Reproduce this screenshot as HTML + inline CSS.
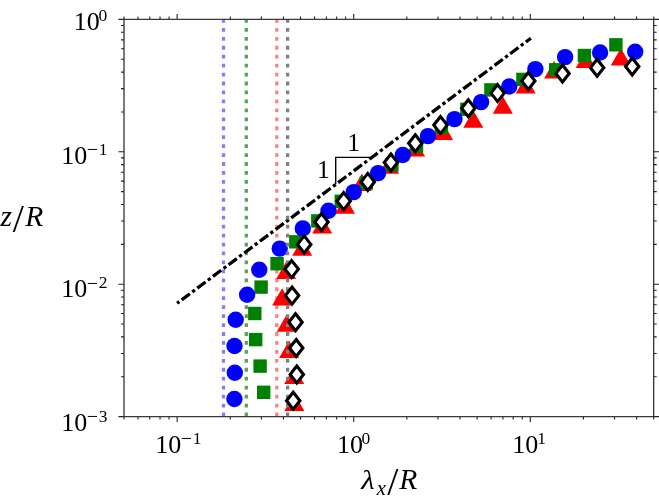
<!DOCTYPE html>
<html><head><meta charset="utf-8"><title>plot</title>
<style>html,body{margin:0;padding:0;background:#fff}svg{display:block}text{font-family:"Liberation Serif","DejaVu Serif",serif;fill:#000}</style></head><body>
<svg width="659" height="502" viewBox="0 0 659 502">
<rect width="659" height="502" fill="#fff"/>
<path d="M335.7 184.1V157.4H371.1" fill="none" stroke="#000" stroke-width="1.4"/>
<line x1="276.8" y1="19.0" x2="276.8" y2="416.6" stroke="#ff8080" stroke-width="3.3" stroke-dasharray="3.8 5.145"/>
<path d="M284.4 411.0L294.4 393.6L304.4 411.0Z" fill="#ff0000"/>
<path d="M284.2 384.1L294.2 366.7L304.2 384.1Z" fill="#ff0000"/>
<path d="M279.1 358.0L289.1 340.6L299.1 358.0Z" fill="#ff0000"/>
<path d="M276.7 331.8L286.7 314.4L296.7 331.8Z" fill="#ff0000"/>
<path d="M272.1 305.6L282.1 288.2L292.1 305.6Z" fill="#ff0000"/>
<path d="M276.1 279.1L286.1 261.7L296.1 279.1Z" fill="#ff0000"/>
<path d="M292.2 255.7L302.2 238.3L312.2 255.7Z" fill="#ff0000"/>
<path d="M312.2 233.6L322.2 216.2L332.2 233.6Z" fill="#ff0000"/>
<path d="M335.0 213.7L345.0 196.3L355.0 213.7Z" fill="#ff0000"/>
<path d="M351.9 191.0L361.9 173.6L371.9 191.0Z" fill="#ff0000"/>
<path d="M379.1 173.8L389.1 156.3L399.1 173.8Z" fill="#ff0000"/>
<path d="M405.1 156.6L415.1 139.2L425.1 156.6Z" fill="#ff0000"/>
<path d="M433.1 139.9L443.1 122.5L453.1 139.9Z" fill="#ff0000"/>
<path d="M463.3 127.7L473.3 110.3L483.3 127.7Z" fill="#ff0000"/>
<path d="M492.8 113.7L502.8 96.3L512.8 113.7Z" fill="#ff0000"/>
<path d="M515.7 93.4L525.7 76.0L535.7 93.4Z" fill="#ff0000"/>
<path d="M544.1 78.5L554.1 61.1L564.1 78.5Z" fill="#ff0000"/>
<path d="M575.7 68.1L585.7 50.7L595.7 68.1Z" fill="#ff0000"/>
<path d="M610.8 65.5L620.8 48.1L630.8 65.5Z" fill="#ff0000"/>
<line x1="246.3" y1="19.0" x2="246.3" y2="416.6" stroke="#58a458" stroke-width="3.3" stroke-dasharray="3.8 5.145"/>
<line x1="223.5" y1="19.0" x2="223.5" y2="416.6" stroke="#8080ff" stroke-width="3.3" stroke-dasharray="3.8 5.145"/>
<line x1="177.1" y1="303.3" x2="530.9" y2="38.2" stroke="#000" stroke-width="3.3" stroke-dasharray="3.3 3 10.25 3" stroke-dashoffset="0.6"/>
<rect x="257.0" y="385.6" width="13.4" height="13.4" fill="#008000"/>
<rect x="253.4" y="359.4" width="13.4" height="13.4" fill="#008000"/>
<rect x="249.0" y="332.9" width="13.4" height="13.4" fill="#008000"/>
<rect x="248.1" y="306.8" width="13.4" height="13.4" fill="#008000"/>
<rect x="254.4" y="280.4" width="13.4" height="13.4" fill="#008000"/>
<rect x="270.4" y="257.0" width="13.4" height="13.4" fill="#008000"/>
<rect x="289.1" y="235.1" width="13.4" height="13.4" fill="#008000"/>
<rect x="311.1" y="214.2" width="13.4" height="13.4" fill="#008000"/>
<rect x="334.6" y="194.6" width="13.4" height="13.4" fill="#008000"/>
<rect x="359.6" y="176.4" width="13.4" height="13.4" fill="#008000"/>
<rect x="385.2" y="157.9" width="13.4" height="13.4" fill="#008000"/>
<rect x="409.8" y="139.5" width="13.4" height="13.4" fill="#008000"/>
<rect x="434.7" y="120.6" width="13.4" height="13.4" fill="#008000"/>
<rect x="460.2" y="102.6" width="13.4" height="13.4" fill="#008000"/>
<rect x="484.2" y="83.2" width="13.4" height="13.4" fill="#008000"/>
<rect x="516.2" y="72.7" width="13.4" height="13.4" fill="#008000"/>
<rect x="549.0" y="63.1" width="13.4" height="13.4" fill="#008000"/>
<rect x="577.7" y="48.8" width="13.4" height="13.4" fill="#008000"/>
<rect x="609.2" y="38.1" width="13.4" height="13.4" fill="#008000"/>
<circle cx="234.4" cy="399.0" r="8.2" fill="#0000ff"/>
<circle cx="234.8" cy="372.8" r="8.2" fill="#0000ff"/>
<circle cx="234.5" cy="346.0" r="8.2" fill="#0000ff"/>
<circle cx="235.7" cy="319.8" r="8.2" fill="#0000ff"/>
<circle cx="247.1" cy="294.7" r="8.2" fill="#0000ff"/>
<circle cx="259.3" cy="269.7" r="8.2" fill="#0000ff"/>
<circle cx="279.7" cy="248.6" r="8.2" fill="#0000ff"/>
<circle cx="302.8" cy="228.4" r="8.2" fill="#0000ff"/>
<circle cx="328.5" cy="210.7" r="8.2" fill="#0000ff"/>
<circle cx="353.7" cy="192.1" r="8.2" fill="#0000ff"/>
<circle cx="378.1" cy="173.1" r="8.2" fill="#0000ff"/>
<circle cx="402.8" cy="155.0" r="8.2" fill="#0000ff"/>
<circle cx="428.0" cy="136.1" r="8.2" fill="#0000ff"/>
<circle cx="454.5" cy="119.1" r="8.2" fill="#0000ff"/>
<circle cx="481.1" cy="102.1" r="8.2" fill="#0000ff"/>
<circle cx="509.2" cy="86.5" r="8.2" fill="#0000ff"/>
<circle cx="535.4" cy="69.1" r="8.2" fill="#0000ff"/>
<circle cx="565.1" cy="57.1" r="8.2" fill="#0000ff"/>
<circle cx="600.1" cy="52.5" r="8.2" fill="#0000ff"/>
<circle cx="635.2" cy="51.7" r="8.2" fill="#0000ff"/>
<line x1="287.6" y1="19.0" x2="287.6" y2="416.6" stroke="#808080" stroke-width="3.3" stroke-dasharray="3.8 5.145"/>
<path d="M293.2 392.2L299.9 400.7L293.2 409.2L286.5 400.7Z" fill="#fff" stroke="#000" stroke-width="3.1" stroke-linejoin="miter"/>
<path d="M296.8 366.0L303.5 374.5L296.8 383.0L290.1 374.5Z" fill="#fff" stroke="#000" stroke-width="3.1" stroke-linejoin="miter"/>
<path d="M296.2 339.5L302.9 348.0L296.2 356.5L289.5 348.0Z" fill="#fff" stroke="#000" stroke-width="3.1" stroke-linejoin="miter"/>
<path d="M295.5 313.8L302.2 322.3L295.5 330.8L288.8 322.3Z" fill="#fff" stroke="#000" stroke-width="3.1" stroke-linejoin="miter"/>
<path d="M292.1 287.1L298.8 295.6L292.1 304.1L285.4 295.6Z" fill="#fff" stroke="#000" stroke-width="3.1" stroke-linejoin="miter"/>
<path d="M291.7 260.6L298.4 269.1L291.7 277.6L285.0 269.1Z" fill="#fff" stroke="#000" stroke-width="3.1" stroke-linejoin="miter"/>
<path d="M304.2 235.9L310.9 244.4L304.2 252.9L297.5 244.4Z" fill="#fff" stroke="#000" stroke-width="3.1" stroke-linejoin="miter"/>
<path d="M321.5 213.5L328.2 222.0L321.5 230.5L314.8 222.0Z" fill="#fff" stroke="#000" stroke-width="3.1" stroke-linejoin="miter"/>
<path d="M343.7 192.6L350.4 201.1L343.7 209.6L337.0 201.1Z" fill="#fff" stroke="#000" stroke-width="3.1" stroke-linejoin="miter"/>
<path d="M367.8 173.4L374.5 181.9L367.8 190.4L361.1 181.9Z" fill="#fff" stroke="#000" stroke-width="3.1" stroke-linejoin="miter"/>
<path d="M390.9 154.0L397.6 162.5L390.9 171.0L384.2 162.5Z" fill="#fff" stroke="#000" stroke-width="3.1" stroke-linejoin="miter"/>
<path d="M415.3 134.8L422.0 143.3L415.3 151.8L408.6 143.3Z" fill="#fff" stroke="#000" stroke-width="3.1" stroke-linejoin="miter"/>
<path d="M440.5 116.6L447.2 125.1L440.5 133.6L433.8 125.1Z" fill="#fff" stroke="#000" stroke-width="3.1" stroke-linejoin="miter"/>
<path d="M468.3 99.8L475.0 108.3L468.3 116.8L461.6 108.3Z" fill="#fff" stroke="#000" stroke-width="3.1" stroke-linejoin="miter"/>
<path d="M497.6 84.6L504.3 93.1L497.6 101.6L490.9 93.1Z" fill="#fff" stroke="#000" stroke-width="3.1" stroke-linejoin="miter"/>
<path d="M528.3 72.5L535.0 81.0L528.3 89.5L521.6 81.0Z" fill="#fff" stroke="#000" stroke-width="3.1" stroke-linejoin="miter"/>
<path d="M562.5 65.0L569.2 73.5L562.5 82.0L555.8 73.5Z" fill="#fff" stroke="#000" stroke-width="3.1" stroke-linejoin="miter"/>
<path d="M597.1 59.2L603.8 67.7L597.1 76.2L590.4 67.7Z" fill="#fff" stroke="#000" stroke-width="3.1" stroke-linejoin="miter"/>
<path d="M632.2 58.0L638.9 66.5L632.2 75.0L625.5 66.5Z" fill="#fff" stroke="#000" stroke-width="3.1" stroke-linejoin="miter"/>
<path d="M124.00 416.6v3.0M124.00 19.4v-3.0M137.98 416.6v3.0M137.98 19.4v-3.0M149.80 416.6v3.0M149.80 19.4v-3.0M160.04 416.6v3.0M160.04 19.4v-3.0M169.07 416.6v3.0M169.07 19.4v-3.0M177.15 416.6v5.4M177.15 19.4v-5.4M230.30 416.6v3.0M230.30 19.4v-3.0M261.40 416.6v3.0M261.40 19.4v-3.0M283.46 416.6v3.0M283.46 19.4v-3.0M300.57 416.6v3.0M300.57 19.4v-3.0M314.55 416.6v3.0M314.55 19.4v-3.0M326.37 416.6v3.0M326.37 19.4v-3.0M336.61 416.6v3.0M336.61 19.4v-3.0M345.64 416.6v3.0M345.64 19.4v-3.0M353.72 416.6v5.4M353.72 19.4v-5.4M406.87 416.6v3.0M406.87 19.4v-3.0M437.96 416.6v3.0M437.96 19.4v-3.0M460.02 416.6v3.0M460.02 19.4v-3.0M477.13 416.6v3.0M477.13 19.4v-3.0M491.11 416.6v3.0M491.11 19.4v-3.0M502.93 416.6v3.0M502.93 19.4v-3.0M513.17 416.6v3.0M513.17 19.4v-3.0M522.21 416.6v3.0M522.21 19.4v-3.0M530.29 416.6v5.4M530.29 19.4v-5.4M583.44 416.6v3.0M583.44 19.4v-3.0M614.53 416.6v3.0M614.53 19.4v-3.0M636.59 416.6v3.0M636.59 19.4v-3.0M653.70 416.6v3.0M653.70 19.4v-3.0M124.0 416.60h-5.6M653.7 416.60h5.6M124.0 376.74h-3.0M653.7 376.74h3.0M124.0 353.43h-3.0M653.7 353.43h3.0M124.0 336.89h-3.0M653.7 336.89h3.0M124.0 324.06h-3.0M653.7 324.06h3.0M124.0 313.57h-3.0M653.7 313.57h3.0M124.0 304.71h-3.0M653.7 304.71h3.0M124.0 297.03h-3.0M653.7 297.03h3.0M124.0 290.26h-3.0M653.7 290.26h3.0M124.0 284.20h-5.6M653.7 284.20h5.6M124.0 244.34h-3.0M653.7 244.34h3.0M124.0 221.03h-3.0M653.7 221.03h3.0M124.0 204.49h-3.0M653.7 204.49h3.0M124.0 191.66h-3.0M653.7 191.66h3.0M124.0 181.17h-3.0M653.7 181.17h3.0M124.0 172.31h-3.0M653.7 172.31h3.0M124.0 164.63h-3.0M653.7 164.63h3.0M124.0 157.86h-3.0M653.7 157.86h3.0M124.0 151.80h-5.6M653.7 151.80h5.6M124.0 111.94h-3.0M653.7 111.94h3.0M124.0 88.63h-3.0M653.7 88.63h3.0M124.0 72.09h-3.0M653.7 72.09h3.0M124.0 59.26h-3.0M653.7 59.26h3.0M124.0 48.77h-3.0M653.7 48.77h3.0M124.0 39.91h-3.0M653.7 39.91h3.0M124.0 32.23h-3.0M653.7 32.23h3.0M124.0 25.46h-3.0M653.7 25.46h3.0M124.0 19.40h-5.6M653.7 19.40h5.6" stroke="#222" stroke-width="1.1" fill="none"/>
<path d="M123.4 19.4H654.3000000000001M123.4 416.6H654.3000000000001" fill="none" stroke="#3a3a3a" stroke-width="1.2"/>
<path d="M124.0 19.4V416.6M653.7 19.4V416.6" fill="none" stroke="#222" stroke-width="1.2"/>
<text x="73.8" y="30.2" font-size="26">10<tspan dy="-9.2" dx="-1.3" font-size="17.5">0</tspan></text>
<text x="61.2" y="164.0" font-size="26">10<tspan dy="-7.9" dx="-0.4" font-size="20">−</tspan><tspan dy="-1.6" dx="0.6" font-size="17.5">1</tspan></text>
<text x="61.2" y="297.4" font-size="26">10<tspan dy="-7.9" dx="-0.4" font-size="20">−</tspan><tspan dy="-1.6" dx="0.6" font-size="17.5">2</tspan></text>
<text x="61.2" y="431.2" font-size="26">10<tspan dy="-7.9" dx="-0.4" font-size="20">−</tspan><tspan dy="-1.6" dx="0.6" font-size="17.5">3</tspan></text>
<text x="155.2" y="453.0" font-size="26">10<tspan dy="-7.9" dx="-0.4" font-size="20">−</tspan><tspan dy="-1.6" dx="0.6" font-size="17.5">1</tspan></text>
<text x="336.9" y="453.0" font-size="26">10<tspan dy="-9.2" dx="-1.3" font-size="17.5">0</tspan></text>
<text x="512.2" y="453.0" font-size="26">10<tspan dy="-9.5" dx="-1.0" font-size="17.5">1</tspan></text>
<text x="347.3" y="151.0" font-size="25.5">1</text>
<text x="316.9" y="177.7" font-size="25.5">1</text>
<text x="0.6" y="226.0" font-size="29.5" font-style="italic">z</text>
<text x="12.7" y="232.2" font-size="40" font-style="normal">/</text>
<text x="25.2" y="226.0" font-size="29.5" font-style="italic">R</text>
<text transform="translate(361.3 488.9) scale(1.1 1)" font-size="28" font-style="italic">λ</text>
<text x="376.8" y="494.6" font-size="20.5" font-style="italic">x</text>
<text x="387.2" y="495.3" font-size="40" font-style="normal">/</text>
<text x="399.3" y="488.9" font-size="29.5" font-style="italic">R</text>
</svg></body></html>
